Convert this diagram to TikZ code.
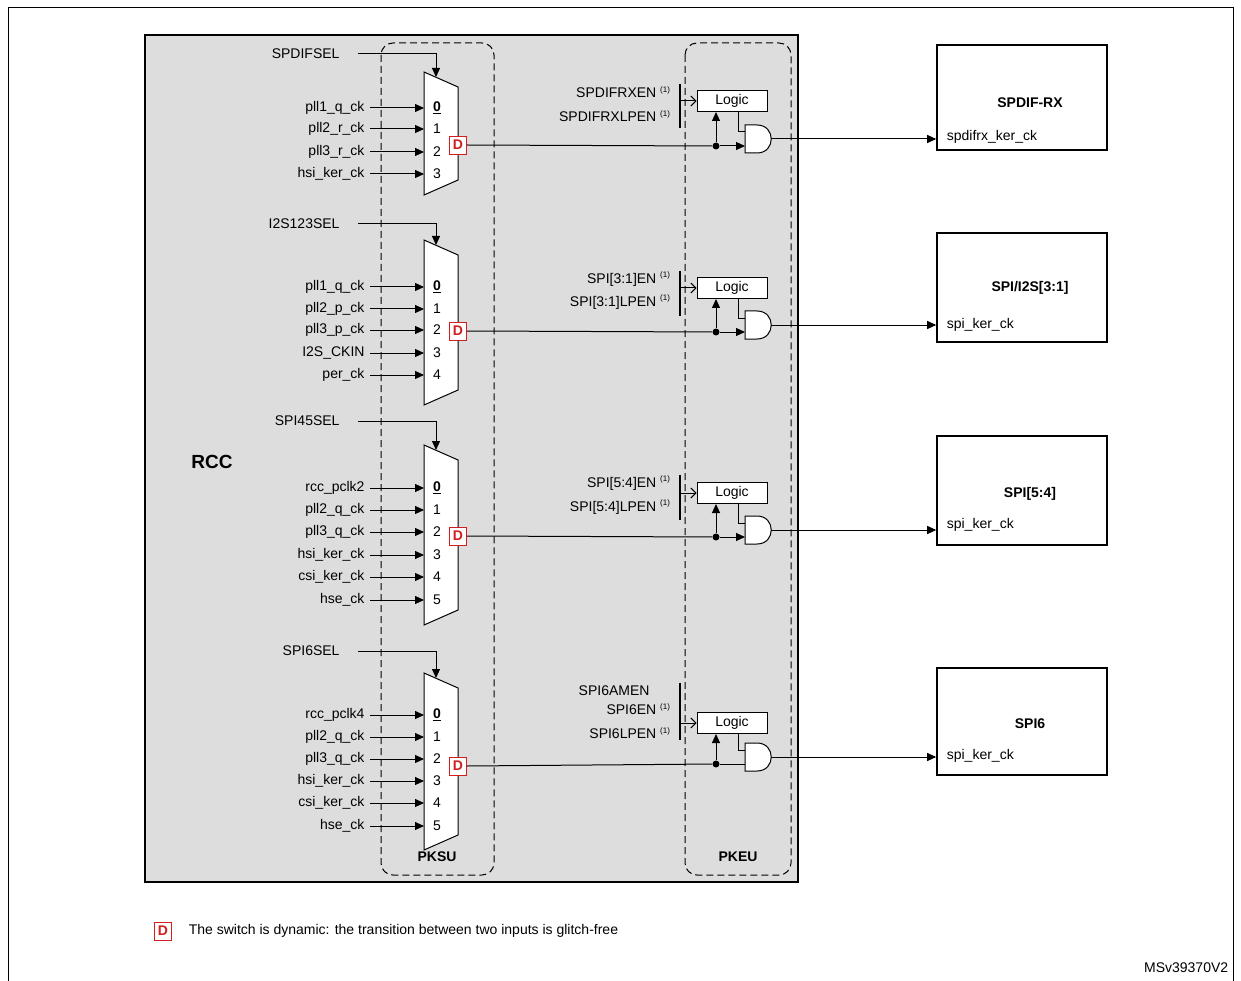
\documentclass[tikz,border=0pt]{standalone}
\usepackage{fontspec}
\setmainfont{Liberation Sans}
\usetikzlibrary{arrows.meta}
\definecolor{rccgray}{RGB}{221,221,221}
\definecolor{dynred}{RGB}{210,30,30}
\newcommand{\bodyfont}{\fontsize{14}{16}\selectfont}
\tikzset{
  sig/.style={-{Triangle[length=9pt,width=8pt]}},
  sel/.style={-{Triangle[length=9pt,width=8pt]}},
  dbox/.style={draw=dynred,thick,fill=white,text=dynred,font=\bodyfont\bfseries,inner sep=0pt,minimum width=17pt,minimum height=18pt},
  logic/.style={draw,fill=white,minimum width=70pt,minimum height=21pt,inner sep=0pt},
  periph/.style={draw,line width=1.6pt,fill=white,minimum width=170pt,inner sep=0pt},
  unit/.style={draw,dashed,dash pattern=on 7pt off 4pt,line width=1pt,rounded corners=12pt},
  title/.style={font=\bodyfont\bfseries},
  lbl/.style={anchor=east,inner sep=1pt},
  dot/.style={circle,fill,inner sep=0pt,minimum size=7pt}
}
\newcommand{\one}{\textsuperscript{\footnotesize(1)}}
\begin{document}
\begin{tikzpicture}[x=1pt,y=-1pt,line width=1pt,font=\bodyfont]
    \useasboundingbox (0,0) rectangle (1241,981);
    % Frame
    \draw (8,981) -- (8,8) -- (1233,8) -- (1233,981);
    % RCC area and units
    \draw[line width=1.6pt,fill=rccgray] (145,35) rectangle (798,882);
    \draw[unit] (381,43) rectangle (494,875);
    \draw[unit] (685,43) rectangle (791,875);
    \node[font=\bfseries\fontsize{19}{21}\selectfont] (rcc) at (212,462) {RCC};
    \node[title] (pksu) at (437,857) {PKSU};
    \node[title] (pkeu) at (738,857) {PKEU};
    % Muxes with select lines
    \foreach \k/\top/\bot/\sel/\sy in {1/72/195/SPDIFSEL/54, 2/240/405/I2S123SEL/224,
                                      3/445/625/SPI45SEL/421, 4/673/850/SPI6SEL/651}{
      \draw[fill=white] (424,\top) -- (458,\top+15) -- (458,\bot-15) -- (424,\bot) -- cycle;
      \node[lbl] (sel\k) at (341,\sy) {\sel};
      \coordinate (selin\k) at (436,\top+5);
      \draw[sel] (358,\sy) -| (selin\k);
    }
    % Mux inputs
    \foreach \k/\y/\lab/\num in {1/108/pll1\_q\_ck/\underline{\textbf{0}}, 1/129/pll2\_r\_ck/1, 1/152/pll3\_r\_ck/2, 1/174/hsi\_ker\_ck/3,
        2/287/pll1\_q\_ck/\underline{\textbf{0}}, 2/309/pll2\_p\_ck/1, 2/330/pll3\_p\_ck/2, 2/353/I2S\_CKIN/3, 2/375/per\_ck/4,
        3/488/rcc\_pclk2/\underline{\textbf{0}}, 3/510/pll2\_q\_ck/1, 3/532/pll3\_q\_ck/2, 3/555/hsi\_ker\_ck/3, 3/577/csi\_ker\_ck/4, 3/600/hse\_ck/5,
        4/715/rcc\_pclk4/\underline{\textbf{0}}, 4/737/pll2\_q\_ck/1, 4/759/pll3\_q\_ck/2, 4/781/hsi\_ker\_ck/3, 4/803/csi\_ker\_ck/4, 4/826/hse\_ck/5}{
      \node[lbl] (in\k-\y) at (366,\y) {\lab};
      \node (num\k-\y) at (437,\y) {\num};
      \draw[sig] (in\k-\y.east) ++(4,0) -- (424,\y);
    }
    % Dynamic switch, enable logic and gate
    \foreach \k/\dy/\ly/\ay/\bt/\bb in {1/145/101/139/84/128, 2/331/288/325/271/316,
                                      3/536/493/530/475/520, 4/766/723/757/683/740}{
      \node[dbox] (D\k) at (458,\dy) {D};
      \node[logic] (logic\k) at (732,\ly) {Logic};
      \draw[fill=white] (745,\ay-14) -- (757,\ay-14) .. controls (776,\ay-14) and (776,\ay+14) .. (757,\ay+14) -- (745,\ay+14) -- cycle;
      \coordinate (andin\k) at (745,\ay+7);
      \coordinate (andout\k) at (771,\ay);
      \node[dot] (dot\k) at (716,\ay+7) {};
      \draw (D\k.east) -- (dot\k);
      \draw[-{Triangle[length=9pt,width=8pt]}] (dot\k) -- (logic\k.south -| dot\k);
      \draw (logic\k.south -| 738,0) |- (745,\ay-7);
      \draw[line width=1.3pt] (680,\bt) -- (680,\bb);
      \draw[-{Straight Barb[length=5pt]}] (680,\ly) -- (logic\k.west);
    }
    \foreach \k in {1,2,3}{
      \draw[-{Triangle[length=9pt,width=8pt]}] (dot\k) -- (andin\k);
    }
    \draw (dot4) -- (andin4);
    % Enable labels
    \node[lbl] (en1a) at (672,92) {SPDIFRXEN \one};
    \node[lbl] (en1b) at (672,116) {SPDIFRXLPEN \one};
    \node[lbl] (en2a) at (672,279) {SPI[3:1]EN \one};
    \node[lbl] (en2b) at (672,302) {SPI[3:1]LPEN \one};
    \node[lbl] (en3a) at (672,483) {SPI[5:4]EN \one};
    \node[lbl] (en3b) at (672,507) {SPI[5:4]LPEN \one};
    \node[lbl] (en4a) at (651,691) {SPI6AMEN};
    \node[lbl] (en4b) at (672,709) {SPI6EN \one};
    \node[lbl] (en4c) at (672,733) {SPI6LPEN \one};
    % Peripherals
    \node[periph,minimum height=105pt] (spdif) at (1022,97.5) {};
    \node[periph,minimum height=109pt] (spi13) at (1022,287.5) {};
    \node[periph,minimum height=109pt] (spi45) at (1022,490.5) {};
    \node[periph,minimum height=107pt] (spi6)  at (1022,721.5) {};
    \node[title] (t1) at (1030,103) {SPDIF-RX};
    \node[title] (t2) at (1030,288) {SPI/I2S[3:1]};
    \node[title] (t3) at (1030,494) {SPI[5:4]};
    \node[title] (t4) at (1030,724) {SPI6};
    \node[anchor=west] (p1) at (943,137) {spdifrx\_ker\_ck};
    \node[anchor=west] (p2) at (943,325) {spi\_ker\_ck};
    \node[anchor=west] (p3) at (943,525) {spi\_ker\_ck};
    \node[anchor=west] (p4) at (943,756) {spi\_ker\_ck};
    \draw[sig] (andout1) -- (spdif.west |- andout1);
    \draw[sig] (andout2) -- (spi13.west |- andout2);
    \draw[sig] (andout3) -- (spi45.west |- andout3);
    \draw[sig] (andout4) -- (spi6.west |- andout4);
    % Legend
    \node[dbox] (legD) at (163,931) {D};
    \node[anchor=west] (legtext) at (185,931) {The switch is dynamic: the transition between two inputs is glitch-free};
    \node[anchor=east] (ref) at (1232,968) {MSv39370V2};
\end{tikzpicture}
\end{document}
